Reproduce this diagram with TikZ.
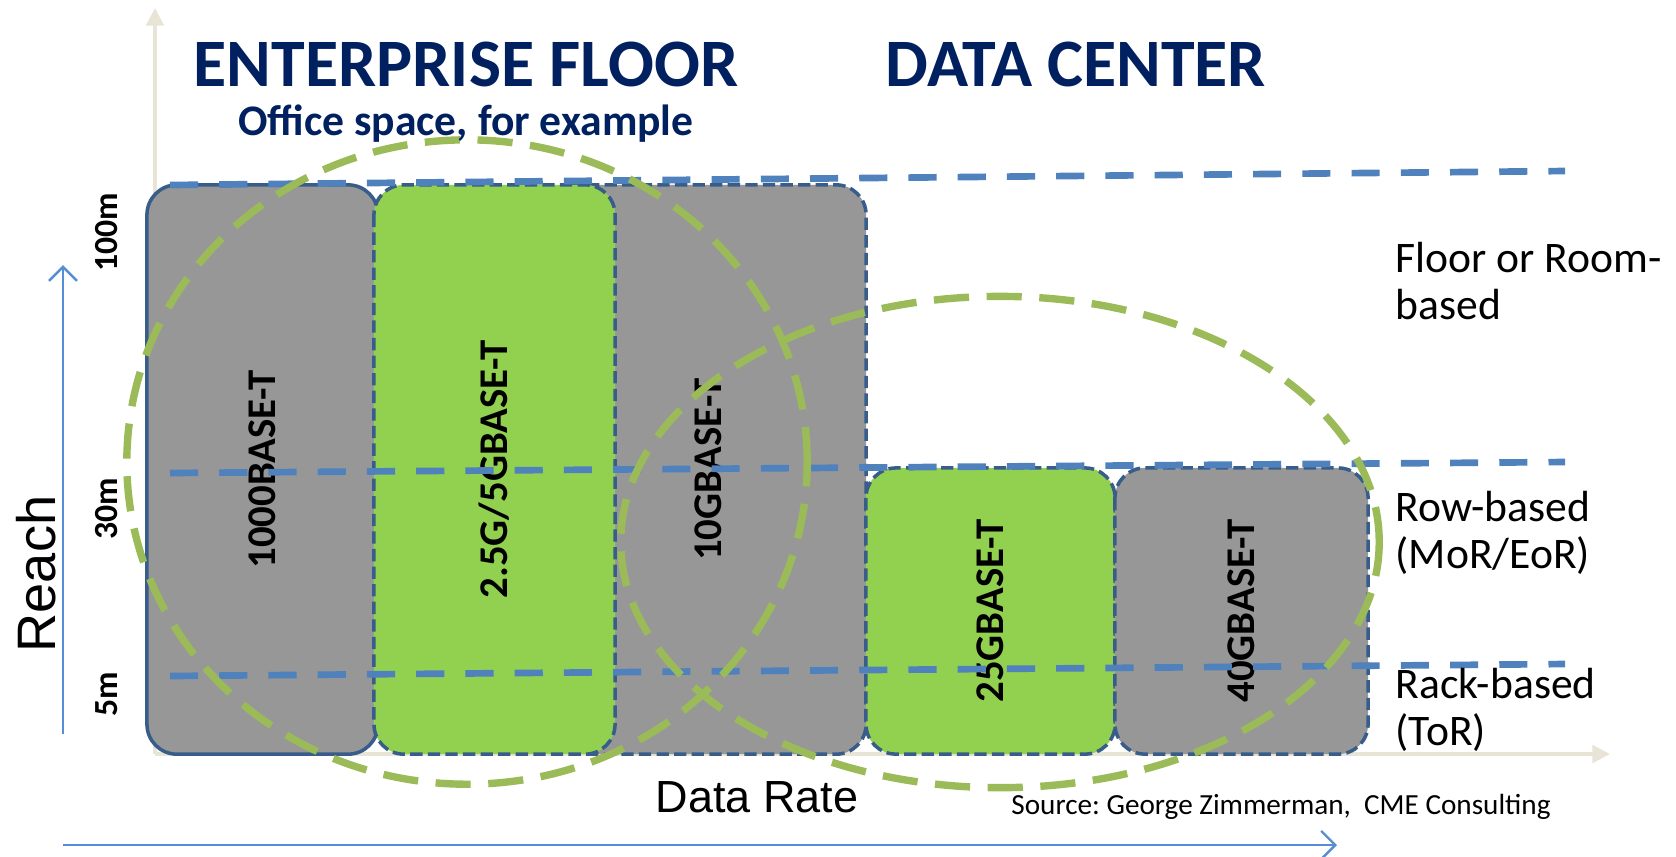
\documentclass[tikz,border=0pt]{standalone}
\usepackage{fontspec}
\setmainfont{Carlito}
\newfontfamily\arialfont{Liberation Sans}
\usepackage{tikz}
\usetikzlibrary{arrows.meta}
\frenchspacing

\definecolor{navy}{HTML}{002060}
\definecolor{rategray}{HTML}{979797}
\definecolor{rategreen}{HTML}{92D050}
\definecolor{boxline}{HTML}{385D8A}
\definecolor{levelblue}{HTML}{4F81BD}
\definecolor{zonegreen}{HTML}{9BBB59}
\definecolor{axisbeige}{HTML}{E8E5D6}
\definecolor{arrowblue}{HTML}{558ED5}

\begin{document}
\begin{tikzpicture}[x=0.01cm, y=-0.01cm,
  rate/.style={draw=boxline, line width=1pt, rounded corners=0.3cm, rotate=90, inner sep=0pt, font=\fontsize{11.6}{13}\selectfont\bfseries},
  grayrate/.style={rate, fill=rategray},
  greenrate/.style={rate, fill=rategreen},
  dashedrate/.style={dash pattern=on 3.5pt off 1.5pt},
  level/.style={draw=levelblue, line width=1.9pt, dash pattern=on 8pt off 6pt},
  zone/.style={draw=zonegreen, line width=2.1pt, dash pattern=on 10pt off 5pt},
  axis/.style={draw=axisbeige, line width=0.9pt, -{Triangle[length=5pt, width=5pt]}},
  arr/.style={draw=arrowblue, line width=0.7pt, -{Straight Barb[length=4pt, width=8pt]}},
  title/.style={text=navy, font=\fontsize{19.3}{22}\selectfont\bfseries},
  dist/.style={rotate=90, font=\fontsize{9.6}{11}\selectfont\bfseries},
  note/.style={anchor=west, inner sep=0pt, align=left, font=\fontsize{12.4}{13.4}\selectfont}]
\useasboundingbox (0,0) rectangle (1676,856);

% chart axes
\coordinate (o) at (155,754);
\draw[axis] (o) -- (155,8);
\draw[axis] (o) -- (1610,754);

% rate boxes (width along the page is minimum height, since they are turned)
\node[grayrate, minimum width=5.69cm, minimum height=2.31cm] (t1) at (262.5,469.5) {1000BASE-T};
\node[grayrate, dashedrate, minimum width=5.69cm, minimum height=3.16cm] (t10) at (708,469.5) {10GBASE-T};
\node[greenrate, dashedrate, minimum width=5.69cm, minimum height=2.41cm] (t2) at (494.5,469.5) {2.5G/5GBASE-T};
\node[greenrate, dashedrate, minimum width=2.86cm, minimum height=2.49cm] (t25) at (990.5,611) {25GBASE-T};
\node[grayrate, dashedrate, minimum width=2.86cm, minimum height=2.53cm] (t40) at (1241.5,611) {40GBASE-T};

% reach levels
\foreach \ya/\yb in {185/171, 473/462, 676/664} { \draw[level] (170,\ya) -- (1565,\yb); }

% enterprise and data center zones
\draw[zone] (467,462) ellipse [x radius=3.4cm, y radius=3.22cm];
\draw[zone] (1000,542) ellipse [x radius=3.79cm, y radius=2.455cm];

\draw[arr] (63,734) -- (63,265);
\draw[arr] (63,845) -- (1337,845);

\node[title] (ent) at (466,64) {ENTERPRISE FLOOR};
\node[text=navy, font=\fontsize{12.4}{14}\selectfont\bfseries] (office) at (466,124) {Office space, for example};
\node[title] (dc) at (1076,64) {DATA CENTER};

\node[dist] (d100) at (107,232) {100m};
\node[dist] (d30) at (107,509) {30m};
\node[dist] (d5) at (107,694) {5m};
\node[rotate=90, font=\arialfont\fontsize{15.4}{17}\selectfont] (reach) at (36,574) {Reach};
\node[font=\arialfont\fontsize{12.8}{15}\selectfont] (rate) at (757,797) {Data Rate};
\node[font=\fontsize{8.3}{10}\selectfont] (src) at (1281,807) {Source: George Zimmerman,\ \ CME Consulting};

\node[note] (room) at (1395,281) {Floor or Room-\\based};
\node[note] (row) at (1395,533) {Row-based\\(MoR/EoR)};
\node[note] (rack) at (1395,710) {Rack-based\\(ToR)};
\end{tikzpicture}
\end{document}
